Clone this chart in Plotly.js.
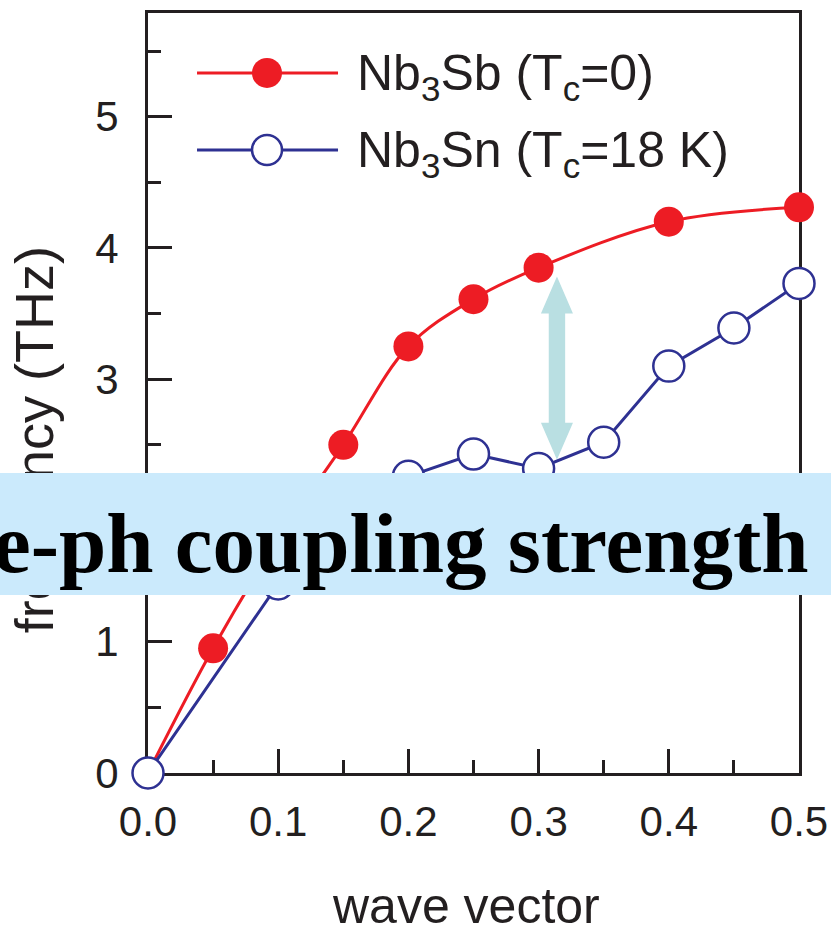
<!DOCTYPE html>
<html>
<head>
<meta charset="utf-8">
<script src="https://cdn.plot.ly/plotly-3.0.1.min.js"></script>
<style>html,body{margin:0;padding:0;background:#fff;}#chart{width:831px;height:929px;}</style>
</head>
<body>
<div id="chart"></div>
<script>
// ---- data ----
const xSb = [0, 0.05, 0.1, 0.15, 0.2, 0.25, 0.3, 0.4, 0.5];
const ySb = [0, 0.95, 1.78, 2.50, 3.25, 3.61, 3.85, 4.20, 4.31];
const xSn = [0, 0.1, 0.2, 0.25, 0.3, 0.35, 0.4, 0.45, 0.5];
const ySn = [0, 1.44, 2.26, 2.43, 2.32, 2.52, 3.10, 3.39, 3.73];
const nameSb = 'Nb<sub>3</sub>Sb (T<sub>c</sub>=0)';
const nameSn = 'Nb<sub>3</sub>Sn (T<sub>c</sub>=18 K)';
const xTickVals = [0, 0.1, 0.2, 0.3, 0.4, 0.5];
const xTickText = ['0.0', '0.1', '0.2', '0.3', '0.4', '0.5'];
const yTickVals = [0, 1, 2, 3, 4, 5];
const yTickText = ['0', '1', '2', '3', '4', '5'];
const xTitle = 'wave vector';
const yTitle = 'frequency (THz)';
const bannerText = 'e-ph coupling strength';

// ---- styles ----
const RED = '#ed1c24', BLUE = '#2e3192', INK = '#231f20';
const BANNER = '#cbeafc', ARROW = '#b9dfe2';
const SANS = 'Liberation Sans, Arial, Helvetica, sans-serif';
const SERIF = 'Liberation Serif, Times New Roman, serif';

// double arrow (data coordinates)
const arr = {x: 0.3141, yTop: 3.783, yBot: 2.387, headLen: 0.282, headHalf: 0.0123, shaftHalf: 0.0063};
const arrowPath = [
  'M', arr.x, arr.yTop,
  'L', arr.x + arr.headHalf, arr.yTop - arr.headLen,
  'L', arr.x + arr.shaftHalf, arr.yTop - arr.headLen,
  'L', arr.x + arr.shaftHalf, arr.yBot + arr.headLen,
  'L', arr.x + arr.headHalf, arr.yBot + arr.headLen,
  'L', arr.x, arr.yBot,
  'L', arr.x - arr.headHalf, arr.yBot + arr.headLen,
  'L', arr.x - arr.shaftHalf, arr.yBot + arr.headLen,
  'L', arr.x - arr.shaftHalf, arr.yTop - arr.headLen,
  'L', arr.x - arr.headHalf, arr.yTop - arr.headLen, 'Z'
].join(' ');

const traces = [
  {x: xSb, y: ySb, type: 'scatter', mode: 'lines+markers', name: nameSb, cliponaxis: false,
   line: {color: RED, width: 3, shape: 'spline', smoothing: 1},
   marker: {symbol: 'circle', size: 30, color: RED, line: {width: 0}}},
  {x: xSn, y: ySn, type: 'scatter', mode: 'lines+markers', name: nameSn, cliponaxis: false,
   line: {color: BLUE, width: 3},
   marker: {symbol: 'circle', size: 31, color: '#ffffff', line: {width: 2.5, color: BLUE}}}
];

// legend geometry (paper coordinates)
const leg = {x0: 0.0753, x1: 0.2919, xm: 0.1828, xt: 0.318, rows: [0.9211, 0.8197]};

const shapes = [
  {type: 'path', path: arrowPath, xref: 'x', yref: 'y', fillcolor: ARROW, line: {width: 0}, layer: 'below'},
  {type: 'line', xref: 'paper', yref: 'paper', x0: leg.x0, x1: leg.x1, y0: leg.rows[0], y1: leg.rows[0], line: {color: RED, width: 3}},
  {type: 'circle', xref: 'paper', yref: 'paper', xsizemode: 'pixel', ysizemode: 'pixel',
   xanchor: leg.xm, yanchor: leg.rows[0], x0: -15, x1: 15, y0: -15, y1: 15, fillcolor: RED, line: {width: 0}},
  {type: 'line', xref: 'paper', yref: 'paper', x0: leg.x0, x1: leg.x1, y0: leg.rows[1], y1: leg.rows[1], line: {color: BLUE, width: 3}},
  {type: 'circle', xref: 'paper', yref: 'paper', xsizemode: 'pixel', ysizemode: 'pixel',
   xanchor: leg.xm, yanchor: leg.rows[1], x0: -15, x1: 15, y0: -15, y1: 15, fillcolor: '#ffffff', line: {color: BLUE, width: 2.5}}
];

const annotations = [
  {text: nameSb, xref: 'paper', yref: 'paper', x: leg.xt, y: leg.rows[0] - 0.004, xanchor: 'left', yanchor: 'middle',
   showarrow: false, font: {family: SANS, size: 50, color: INK}},
  {text: nameSn, xref: 'paper', yref: 'paper', x: leg.xt, y: leg.rows[1] - 0.004, xanchor: 'left', yanchor: 'middle',
   showarrow: false, font: {family: SANS, size: 50, color: INK}},
  {text: xTitle, xref: 'paper', yref: 'paper', x: 0.488, y: -0.175, xanchor: 'center', yanchor: 'middle',
   showarrow: false, font: {family: SANS, size: 50, color: INK}},
  {text: yTitle, xref: 'paper', yref: 'paper', x: -0.175, y: 0.438, xanchor: 'center', yanchor: 'middle',
   textangle: -90, showarrow: false, font: {family: SANS, size: 54, color: INK}},
  // banner background (drawn after the y title so it covers it)
  {text: ' ', xref: 'paper', yref: 'paper', x: -0.26, y: 0.3947, xanchor: 'left', yanchor: 'top',
   width: 900, height: 122, bgcolor: BANNER, borderwidth: 0, borderpad: 0, showarrow: false,
   font: {family: SERIF, size: 10, color: BANNER}},
  {text: '<b>' + bannerText + '</b>', xref: 'paper', yref: 'paper', x: 1.0154, y: 0.302, xanchor: 'right', yanchor: 'middle',
   borderwidth: 0, borderpad: 0, showarrow: false, font: {family: SERIF, size: 85, color: '#000000'}}
];

const axisCommon = {
  showline: true, linecolor: INK, linewidth: 3, mirror: true, showgrid: false, zeroline: false,
  ticks: 'inside', ticklen: 24, tickwidth: 3, tickcolor: INK, layer: 'below traces',
  tickfont: {family: SANS, size: 42, color: INK}, tickmode: 'array'
};

const layout = {
  width: 831, height: 929,
  margin: {l: 148, r: 32, t: 13, b: 156, pad: 0},
  paper_bgcolor: '#ffffff', plot_bgcolor: '#ffffff',
  showlegend: false,
  xaxis: Object.assign({}, axisCommon, {
    range: [0, 0.5], tickvals: xTickVals, ticktext: xTickText, ticklabelstandoff: 10,
    minor: {dtick: 0.05, tick0: 0, ticks: 'inside', ticklen: 13, tickwidth: 3, tickcolor: INK, showgrid: false}
  }),
  yaxis: Object.assign({}, axisCommon, {
    range: [0, 5.79], tickvals: yTickVals, ticktext: yTickText, ticklabelstandoff: 18,
    minor: {dtick: 0.5, tick0: 0, ticks: 'inside', ticklen: 13, tickwidth: 3, tickcolor: INK, showgrid: false}
  }),
  shapes: shapes,
  annotations: annotations
};

Plotly.newPlot('chart', traces, layout, {displayModeBar: false, staticPlot: true});
</script>
</body>
</html>
